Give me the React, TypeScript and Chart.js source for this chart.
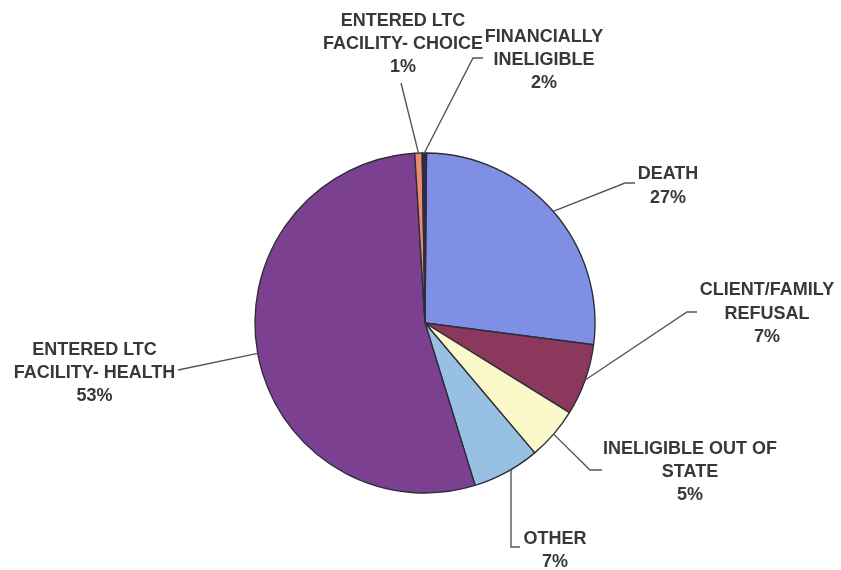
import React, { useEffect, useRef } from "react";
import { Chart, registerables } from "chart.js";

Chart.register(...registerables);

// ---- data ----
const categories = [
  "DEATH",
  "CLIENT/FAMILY REFUSAL",
  "INELIGIBLE OUT OF STATE",
  "OTHER",
  "ENTERED LTC FACILITY- HEALTH",
  "ENTERED LTC FACILITY- CHOICE",
  "FINANCIALLY INELIGIBLE",
];
const sliceValues = [26.9, 6.8, 5.0, 6.4, 53.8, 0.7, 0.4];
const percentLabels = ["27%", "7%", "5%", "7%", "53%", "1%", "2%"];
const labelLines = [
  ["DEATH"],
  ["CLIENT/FAMILY", "REFUSAL"],
  ["INELIGIBLE OUT OF", "STATE"],
  ["OTHER"],
  ["ENTERED LTC", "FACILITY- HEALTH"],
  ["ENTERED LTC", "FACILITY- CHOICE"],
  ["FINANCIALLY", "INELIGIBLE"],
];
const sliceColors = [
  "#7f8fe3",
  "#8c385c",
  "#fbf8c9",
  "#98c0e2",
  "#7c4090",
  "#ee8c72",
  "#2b2b55",
];

// ---- label layout (style/position only) ----
type Layout = {
  x: number;
  y: number; // baseline of first line
  lh: number;
  path: [number, number][];
  vertical?: boolean;
};
const labelLayout: Layout[] = [
  { x: 668, y: 179, lh: 24, path: [[625, 183], [635, 183]] },
  { x: 767, y: 295, lh: 23.5, path: [[687, 312], [697, 312]] },
  { x: 690, y: 453.5, lh: 23, path: [[590, 470], [602, 470]] },
  { x: 555, y: 543.5, lh: 23.5, path: [[511, 547], [520, 547]], vertical: true },
  { x: 94.5, y: 354.5, lh: 23, path: [[178, 370]] },
  { x: 403, y: 26, lh: 23, path: [[401, 83]] },
  { x: 544, y: 42, lh: 23, path: [[473, 58], [483, 58]] },
];

const labelPlugin = {
  id: "pieLabels",
  afterDraw(chart: any) {
    const ctx = chart.ctx;
    const meta = chart.getDatasetMeta(0);
    ctx.save();
    meta.data.forEach((arc: any, i: number) => {
      const L = labelLayout[i];
      const { x: cx, y: cy, startAngle, endAngle, outerRadius } = arc.getProps(
        ["x", "y", "startAngle", "endAngle", "outerRadius"],
        true
      );
      let sx: number, sy: number;
      if (L.vertical) {
        sx = L.path[0][0];
        sy = cy + Math.sqrt(Math.max(outerRadius * outerRadius - (sx - cx) * (sx - cx), 0));
      } else {
        const mid = (startAngle + endAngle) / 2;
        sx = cx + Math.cos(mid) * outerRadius;
        sy = cy + Math.sin(mid) * outerRadius;
      }
      ctx.beginPath();
      ctx.strokeStyle = "#555555";
      ctx.lineWidth = 1.4;
      ctx.moveTo(sx, sy);
      L.path.forEach(([px, py]) => ctx.lineTo(px, py));
      ctx.stroke();

      ctx.fillStyle = "#383838";
      ctx.font = "bold 18px 'Liberation Sans', Arial, sans-serif";
      ctx.textAlign = "center";
      ctx.textBaseline = "alphabetic";
      const lines = [...labelLines[i], percentLabels[i]];
      lines.forEach((t, k) => ctx.fillText(t, L.x, L.y + k * L.lh));
    });
    ctx.restore();
  },
};

export default function App() {
  const ref = useRef<HTMLCanvasElement | null>(null);
  useEffect(() => {
    document.body.style.margin = "0";
    document.body.style.background = "#ffffff";
    if (!ref.current) return;
    const chart = new Chart(ref.current, {
      type: "pie",
      data: {
        labels: categories,
        datasets: [
          {
            data: sliceValues,
            backgroundColor: sliceColors,
            borderColor: "#2e2e3a",
            borderWidth: 1.4,
            hoverOffset: 0,
          },
        ],
      },
      options: {
        animation: false,
        responsive: false,
        rotation: 0.5,
        radius: 170,
        layout: { padding: { top: 153, bottom: 77, left: 255, right: 246 } },
        plugins: {
          legend: { display: false },
          tooltip: { enabled: false },
        },
        events: [],
      },
      plugins: [labelPlugin],
    });
    return () => chart.destroy();
  }, []);
  return (
    <div style={{ width: 841, height: 570, background: "#fff" }}>
      <canvas ref={ref} width={841} height={570} style={{ width: 841, height: 570, display: "block" }} />
    </div>
  );
}
